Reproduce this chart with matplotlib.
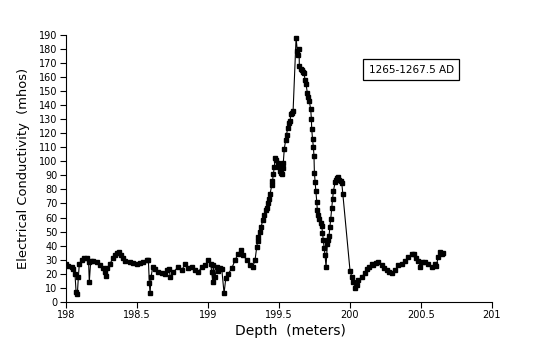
import numpy as np
import matplotlib
matplotlib.use("Agg")
import matplotlib.pyplot as plt
from matplotlib.ticker import MultipleLocator, FuncFormatter

# conductivity profile
depth = [198.000, 198.018, 198.042, 198.054, 198.065, 198.073, 198.082, 198.089, 198.096,
         198.113, 198.129, 198.148, 198.161, 198.166, 198.176, 198.194, 198.218, 198.242,
         198.261, 198.277, 198.284, 198.293, 198.312, 198.331, 198.347, 198.363, 198.377,
         198.389, 198.401, 198.418, 198.453, 198.476, 198.500, 198.523, 198.546, 198.570,
         198.582, 198.589, 198.594, 198.601, 198.613, 198.629, 198.652, 198.676, 198.699,
         198.715, 198.730, 198.735, 198.758, 198.793, 198.817, 198.840, 198.863, 198.887,
         198.911, 198.934, 198.958, 198.981, 199.004, 199.021, 199.028, 199.035, 199.039,
         199.051, 199.063, 199.075, 199.087, 199.099, 199.115, 199.127, 199.145, 199.169,
         199.192, 199.215, 199.232, 199.251, 199.275, 199.298, 199.317, 199.333, 199.345,
         199.351, 199.356, 199.365, 199.375, 199.387, 199.399, 199.407, 199.415, 199.425,
         199.432, 199.439, 199.451, 199.456, 199.462, 199.469, 199.474, 199.484, 199.493,
         199.502, 199.509, 199.516, 199.521, 199.527, 199.532, 199.539, 199.549, 199.555,
         199.563, 199.573, 199.580, 199.585, 199.596, 199.601, 199.622, 199.631, 199.638,
         199.643, 199.645, 199.654, 199.662, 199.671, 199.678, 199.685, 199.692, 199.701,
         199.708, 199.715, 199.725, 199.730, 199.732, 199.738, 199.744, 199.748, 199.751,
         199.756, 199.761, 199.768, 199.772, 199.779, 199.786, 199.794, 199.803, 199.808,
         199.814, 199.820, 199.826, 199.833, 199.842, 199.847, 199.854, 199.860, 199.866,
         199.873, 199.879, 199.885, 199.897, 199.904, 199.913, 199.920, 199.927, 199.935,
         199.944, 199.951, 200.002, 200.014, 200.025, 200.037, 200.049, 200.061, 200.085,
         200.108, 200.120, 200.138, 200.155, 200.166, 200.182, 200.201, 200.225, 200.241,
         200.261, 200.277, 200.296, 200.319, 200.342, 200.366, 200.389, 200.413, 200.437,
         200.453, 200.467, 200.483, 200.495, 200.507, 200.530, 200.554, 200.577, 200.601,
         200.608, 200.624, 200.636, 200.648, 200.655]
cond = [27, 25.3, 24.4, 23, 20, 7, 5.5, 17.7, 27,
        29.6, 30.8, 30.8, 28.4, 14.2, 29, 29, 28.4, 26,
        23.7, 21, 18.2, 23.7, 27, 30.8, 33, 34.8, 35.5,
        33, 30.8, 29, 28.4, 27.8, 27, 27.4, 28.4, 30,
        29.6, 13, 6, 17.7, 25, 23, 21, 20.5, 20,
        22.5, 23, 17.3, 21, 25, 22.5, 26.7, 23.7, 24.4,
        22.5, 21, 25, 26, 29.6, 27, 21, 14, 26,
        17.7, 25, 22, 24, 23, 6, 16.6, 20, 23.7,
        29.6, 34.3, 36.7, 33, 29.6, 26, 25, 29.6, 39,
        43, 46, 50, 53, 58, 61.5, 65, 67, 70,
        73, 77, 83, 86, 91, 96, 102.4, 101, 98.6,
        96, 93.4, 92, 91, 95, 99, 109, 115, 119,
        124, 127, 129, 133.6, 134.8, 136, 188, 178.5, 176,
        180, 168, 166, 165, 164, 163, 158, 155, 149,
        146, 143, 137, 130, 123, 116, 110, 104, 92,
        85, 79, 71, 65, 62, 59, 56, 53.7, 49,
        44, 38, 33, 25, 41, 44, 47, 53, 59,
        67, 73, 79, 85, 87, 88, 89, 87, 86,
        84.4, 77, 22, 17.7, 14, 10, 12, 15.4, 17.7,
        20.6, 23, 25, 27, 26, 27.5, 28.4, 26, 24,
        22.5, 21, 20.6, 22.5, 26, 27, 29, 32, 33.8,
        34.3, 31.5, 29, 25, 28.4, 28.4, 27, 25, 27,
        25.3, 32, 35.5, 33.8, 35]

label = "1265-1267.5 AD"

fig = plt.figure(figsize=(5.4, 3.56), dpi=100)
ax = fig.add_axes([0.1217, 0.1525, 0.789, 0.749])

ax.plot(depth, cond, color="black", lw=0.8, marker="s", ms=2.2,
        mfc="black", mec="black")

ax.set_xlim(198, 201)
ax.set_ylim(0, 190)
ax.xaxis.set_major_locator(MultipleLocator(0.5))
ax.yaxis.set_major_locator(MultipleLocator(10))
ax.xaxis.set_major_formatter(FuncFormatter(lambda v, p: "%g" % v))
ax.spines["top"].set_visible(False)
ax.spines["right"].set_visible(False)
ax.tick_params(direction="out", length=4, width=0.8, labelsize=7, pad=2)

ax.set_xlabel("Depth  (meters)", fontsize=10)
ax.xaxis.set_label_coords(0.527, -0.085)
ax.set_ylabel("Electrical Conductivity  (mhos)", fontsize=9.4)
ax.yaxis.set_label_coords(-0.085, 0.5)

ax.text(200.432, 165.4, label, fontsize=7.5, ha="center", va="center",
        bbox=dict(boxstyle="square,pad=0.5", fc="white", ec="black", lw=0.9))

fig.savefig("out.png", dpi=100)
